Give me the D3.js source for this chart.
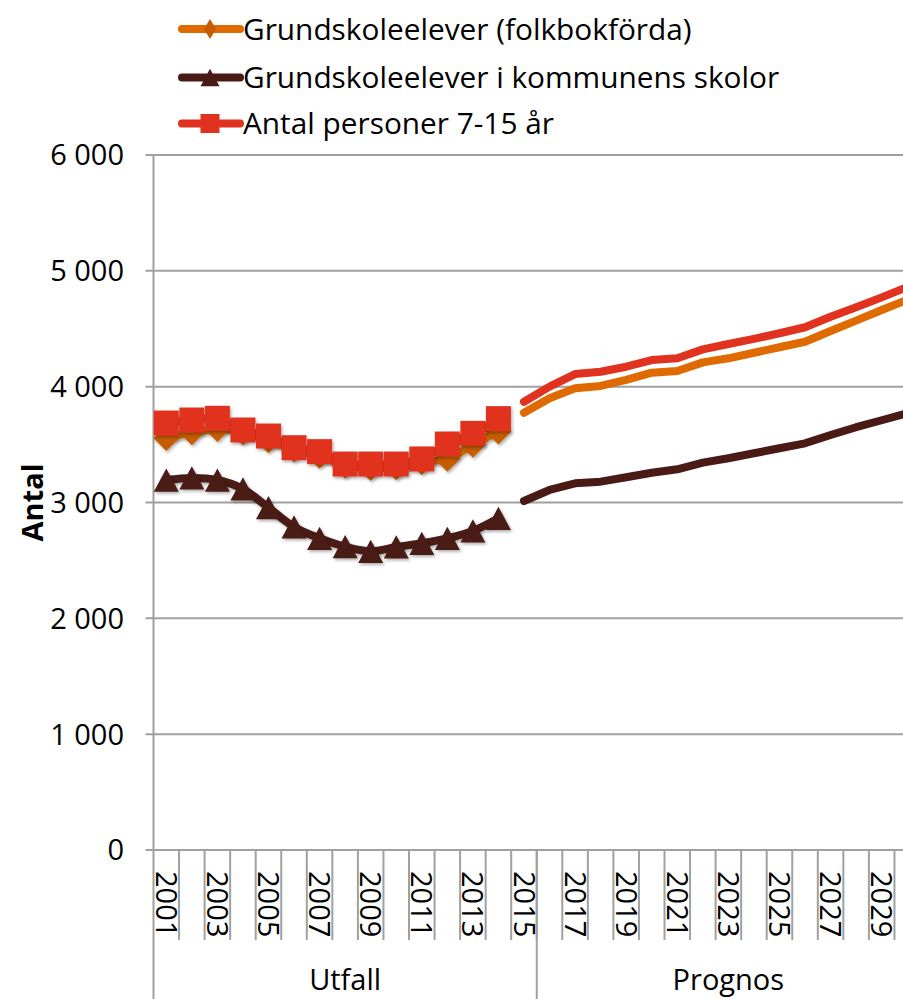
<!DOCTYPE html>
<html>
<head>
<meta charset="utf-8">
<script src="https://cdn.jsdelivr.net/npm/d3@7"></script>
<style>
  body { margin: 0; background: #fff; }
  svg text { font-family: "Open Sans", "Noto Sans", sans-serif; fill: #000; }
</style>
</head>
<body>
<div id="chart"></div>
<script>
const years = [2001, 2002, 2003, 2004, 2005, 2006, 2007, 2008, 2009, 2010,
  2011, 2012, 2013, 2014, 2015, 2016, 2017, 2018, 2019, 2020,
  2021, 2022, 2023, 2024, 2025, 2026, 2027, 2028, 2029, 2030];
const yearLabels = [2001, 2003, 2005, 2007, 2009, 2011, 2013, 2015,
  2017, 2019, 2021, 2023, 2025, 2027, 2029];
const utfallYears = [2001, 2002, 2003, 2004, 2005, 2006, 2007, 2008, 2009, 2010, 2011, 2012, 2013, 2014];
const prognosYears = [2015, 2016, 2017, 2018, 2019, 2020, 2021, 2022, 2023, 2024, 2025, 2026, 2027, 2028, 2029, 2030];

const groupLabels = ['Utfall', 'Prognos'];
const groupFirst = [2001, 2016];
const groupLast = [2015, 2030];

const yTicks = [0, 1000, 2000, 3000, 4000, 5000, 6000];

// Grundskoleelever (folkbokförda)
const folkUtfall = [3557, 3606, 3635, 3606, 3537, 3460, 3404, 3320, 3298, 3304, 3350, 3378, 3499, 3614];
const folkPrognos = [3775, 3900, 3986, 4006, 4058, 4121, 4135, 4210, 4245, 4293, 4340, 4388, 4481, 4570, 4662, 4750];
// Grundskoleelever i kommunens skolor
const skolUtfall = [3194, 3212, 3194, 3117, 2955, 2789, 2691, 2619, 2579, 2616, 2648, 2691, 2754, 2864];
const skolPrognos = [3013, 3108, 3166, 3180, 3218, 3257, 3287, 3344, 3382, 3425, 3468, 3511, 3583, 3650, 3710, 3770];
// Antal personer 7-15 år
const persUtfall = [3686, 3712, 3727, 3626, 3574, 3473, 3439, 3332, 3332, 3332, 3376, 3505, 3597, 3724];
const persPrognos = [3870, 4000, 4109, 4129, 4172, 4230, 4245, 4322, 4368, 4412, 4461, 4513, 4604, 4685, 4771, 4860];

const series = [
  { name: 'Grundskoleelever (folkbokförda)', utfall: folkUtfall, prognos: folkPrognos,
    line: '#DE6A00', marker: '#C65B00', shape: 'diamond' },
  { name: 'Grundskoleelever i kommunens skolor', utfall: skolUtfall, prognos: skolPrognos,
    line: '#4A1A17', marker: '#4A1A17', shape: 'triangle' },
  { name: 'Antal personer 7-15 år', utfall: persUtfall, prognos: persPrognos,
    line: '#E0321F', marker: '#E0321F', shape: 'square' }
];

const width = 903, height = 999;
const plotLeft = 153.5, plotTop = 155, plotBottom = 850;
const band = 25.55;
const gridColor = '#A0A0A0';

const svg = d3.select('#chart').append('svg')
  .attr('width', width)
  .attr('height', height);

const defs = svg.append('defs');
defs.append('filter').attr('id', 'shadow')
  .attr('x', '-50%').attr('y', '-50%').attr('width', '200%').attr('height', '200%')
  .append('feDropShadow')
  .attr('dx', 1.5).attr('dy', 2).attr('stdDeviation', 1.5)
  .attr('flood-color', '#000').attr('flood-opacity', 0.3);

const x = d3.scaleBand()
  .domain(years)
  .range([plotLeft, plotLeft + band * years.length]);

const y = d3.scaleLinear()
  .domain([0, 6000])
  .range([plotBottom, plotTop]);

// horizontal gridlines
svg.append('g').selectAll('line')
  .data(yTicks)
  .enter().append('line')
  .attr('x1', plotLeft - 8)
  .attr('x2', x.range()[1])
  .attr('y1', d => y(d))
  .attr('y2', d => y(d))
  .attr('stroke', gridColor)
  .attr('stroke-width', 2);

// y axis line
svg.append('line')
  .attr('x1', plotLeft).attr('x2', plotLeft)
  .attr('y1', plotTop).attr('y2', height)
  .attr('stroke', gridColor)
  .attr('stroke-width', 2);

// y tick labels
svg.append('g').selectAll('text')
  .data(yTicks)
  .enter().append('text')
  .attr('x', 124)
  .attr('y', d => y(d))
  .attr('dy', '0.36em')
  .attr('text-anchor', 'end')
  .attr('font-size', 29)
  .text(d => d3.format(',')(d).replace(',', ' '));

svg.append('text')
  .attr('transform', `translate(43, ${(plotTop + plotBottom) / 2}) rotate(-90)`)
  .attr('text-anchor', 'middle')
  .attr('font-size', 29)
  .attr('font-weight', 'bold')
  .text('Antal');

// category ticks below the axis
svg.append('g').selectAll('line')
  .data(years.slice(1))
  .enter().append('line')
  .attr('x1', d => x(d)).attr('x2', d => x(d))
  .attr('y1', plotBottom).attr('y2', 940)
  .attr('stroke', gridColor)
  .attr('stroke-width', 2);

// group separators
svg.append('g').selectAll('line')
  .data(groupLast)
  .enter().append('line')
  .attr('x1', d => x(d) + x.bandwidth()).attr('x2', d => x(d) + x.bandwidth())
  .attr('y1', plotBottom).attr('y2', height)
  .attr('stroke', gridColor)
  .attr('stroke-width', 2);

// year labels
svg.append('g').selectAll('text')
  .data(yearLabels)
  .enter().append('text')
  .attr('transform', d => `translate(${x(d) + x.bandwidth() / 2}, 871) rotate(90)`)
  .attr('dy', '0.36em')
  .attr('font-size', 29)
  .text(d => d);

// group labels
svg.append('g').selectAll('text')
  .data(groupLabels)
  .enter().append('text')
  .attr('x', (d, i) => (x(groupFirst[i]) + x(groupLast[i]) + x.bandwidth()) / 2)
  .attr('y', 990)
  .attr('text-anchor', 'middle')
  .attr('font-size', 29)
  .text(d => d);

const cx = d => x(d) + x.bandwidth() / 2;

function markerPath(shape, s) {
  if (shape === 'square') return d3.symbol(d3.symbolSquare, s * s)();
  if (shape === 'triangle') {
    const h = s * 0.93, w = s;
    return `M0,${-h / 2}L${w / 2},${h / 2}L${-w / 2},${h / 2}Z`;
  }
  return `M0,${-s / 2}L${s / 2},0L0,${s / 2}L${-s / 2},0Z`;
}

const lineSmooth = d3.line()
  .x((d, i) => cx(utfallYears[i]))
  .y(d => y(d))
  .curve(d3.curveCatmullRom);

const lineStraight = d3.line()
  .x((d, i) => cx(prognosYears[i]))
  .y(d => y(d));

series.forEach((s) => {
  const g = svg.append('g');
  g.append('path')
    .attr('d', lineSmooth(s.utfall))
    .attr('fill', 'none')
    .attr('stroke', s.line)
    .attr('stroke-width', 8)
    .attr('stroke-linecap', 'round')
    .attr('stroke-linejoin', 'round')
    .attr('filter', 'url(#shadow)');
  g.append('path')
    .attr('d', lineStraight(s.prognos))
    .attr('fill', 'none')
    .attr('stroke', s.line)
    .attr('stroke-width', 8)
    .attr('stroke-linecap', 'round')
    .attr('stroke-linejoin', 'round');
  const size = s.shape === 'diamond' ? 26 : 25;
  g.selectAll('path.mark')
    .data(s.utfall)
    .enter().append('path')
    .attr('class', 'mark')
    .attr('transform', (d, i) => `translate(${cx(utfallYears[i])}, ${y(d)})`)
    .attr('d', markerPath(s.shape, size))
    .attr('fill', s.marker)
    .attr('filter', 'url(#shadow)');
});

// legend
const legendY = [29, 77.5, 123.5];
const legend = svg.append('g').selectAll('g')
  .data(series)
  .enter().append('g')
  .attr('transform', (d, i) => `translate(0, ${legendY[i]})`);

legend.append('line')
  .attr('x1', 182).attr('x2', 240)
  .attr('y1', 0).attr('y2', 0)
  .attr('stroke', d => d.line)
  .attr('stroke-width', 8)
  .attr('stroke-linecap', 'round');

legend.append('path')
  .attr('transform', 'translate(210, 0)')
  .attr('d', d => d.shape === 'diamond' ? 'M0,-10L6,0L0,10L-6,0Z' : markerPath(d.shape, 19))
  .attr('fill', d => d.marker);

legend.append('text')
  .attr('x', 243)
  .attr('dy', '0.36em')
  .attr('font-size', 29.8)
  .text(d => d.name);
</script>
</body>
</html>
